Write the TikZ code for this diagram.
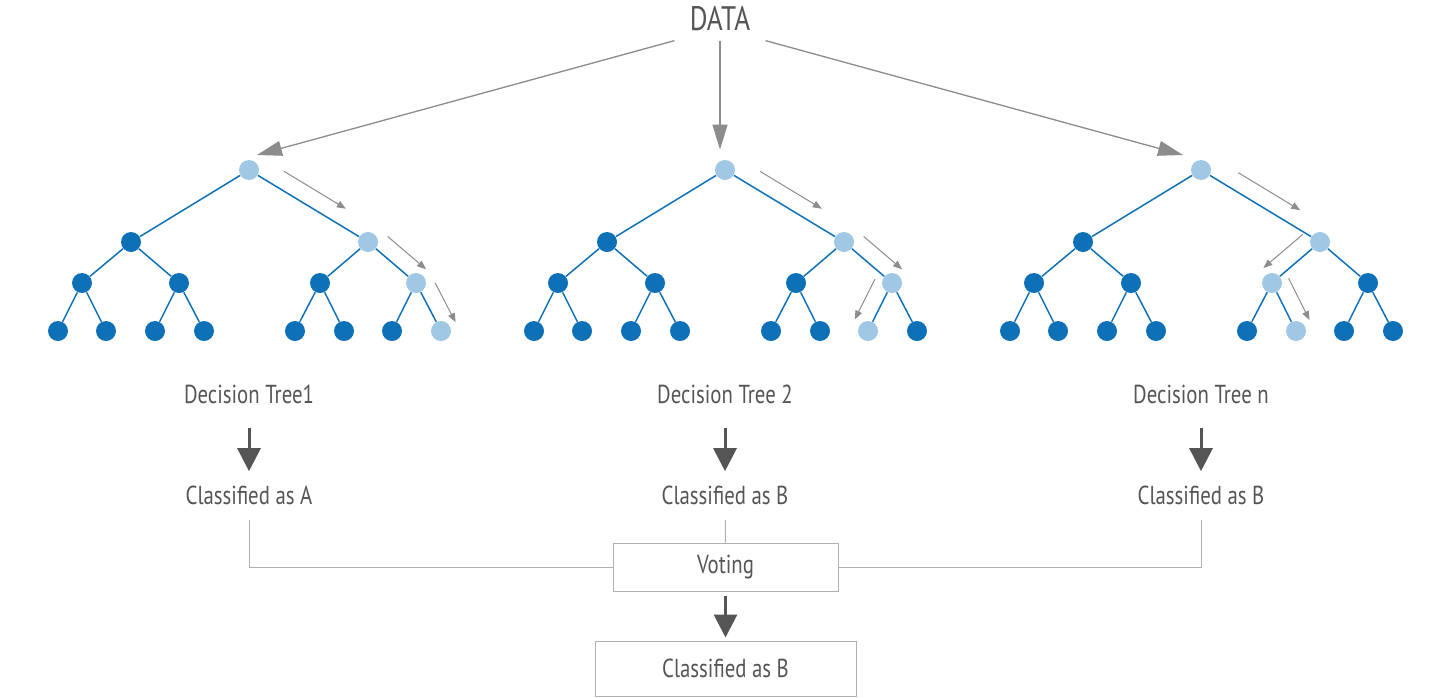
\documentclass[tikz,border=0pt]{standalone}
\usepackage{fontspec}
\setmainfont{PT Sans}[FakeStretch=0.8]
\usetikzlibrary{arrows.meta,calc}
\definecolor{deep}{HTML}{0E71B8}
\definecolor{pale}{HTML}{A0C7E3}
\definecolor{ink}{HTML}{555555}
\definecolor{wire}{HTML}{8C8C8C}
\definecolor{rule}{HTML}{B0B0B0}

\begin{document}
\begin{tikzpicture}[x=0.5pt, y=-0.5pt,
    dot/.style={circle, fill=deep, minimum size=10pt, inner sep=0pt},
    hot/.style={fill=pale},
    hl1r/.style=hot, hl1b/.style=hot, hl1bb/.style=hot, hl1bbb/.style=hot,
    hl2r/.style=hot, hl2b/.style=hot, hl2bb/.style=hot, hl2bba/.style=hot,
    hl3r/.style=hot, hl3b/.style=hot, hl3ba/.style=hot, hl3bab/.style=hot,
    branch/.style={draw=deep, line width=0.75pt},
    flow/.style={draw=wire, line width=0.5pt, -{Triangle[length=4.5pt, width=3.5pt]}},
    feed/.style={draw=wire, line width=0.65pt, -{Triangle[length=12.5pt, width=7.5pt]}, fill=wire!90!black},
    verdict/.style={draw=ink, line width=1.5pt, -{Triangle[length=11.5pt, width=11.5pt]}},
    tally/.style={draw=rule, line width=0.5pt},
    words/.style={text=ink, font=\fontsize{13}{15}\selectfont, inner sep=0pt},
    panel/.style={words, draw=rule, line width=0.5pt}]

    \useasboundingbox (0,0) rectangle (1440,697);

    \node[words, font=\fontsize{17}{20}\selectfont, inner xsep=7.5pt, inner ysep=4.5pt] (data) at (720,19) {DATA};

    \foreach \t/\dx in {1/0, 2/476, 3/952} {
        \foreach \n/\x/\y in {r/249/170, a/131/242, b/368/242,
                aa/82/283, ab/179/283, ba/320/283, bb/416/283,
                aaa/58/331, aab/106/331, aba/155/331, abb/204/331,
                baa/295/331, bab/344/331, bba/392/331, bbb/441/331}
            \node[dot, hl\t\n/.try] (t\t\n) at (\x+\dx,\y) {};
        \foreach \u/\v in {r/a, r/b, a/aa, a/ab, b/ba, b/bb, aa/aaa, aa/aab,
                ab/aba, ab/abb, ba/baa, ba/bab, bb/bba, bb/bbb}
            \draw[branch] (t\t\u) -- (t\t\v);
    }

    \foreach \u/\v/\s/\f/\g in {1r/1b/90/.22/.74, 1b/1bb/90/.18/.98, 1bb/1bbb/90/.16/.98,
            2r/2b/90/.22/.74, 2b/2bb/90/.18/.98, 2bb/2bba/-90/.08/.92,
            3r/3b/90/.24/.76, 3b/3ba/-90/.13/.95, 3ba/3bab/90/.06/.93}
        \draw[flow] ($(t\u)!\f!(t\v)!8.5pt!\s:(t\v)$) -- ($(t\u)!\g!(t\v)!8.5pt!\s:(t\v)$);

    \draw[feed] (data.south west) -- ($(t1r)+(8,-15)$);
    \draw[feed, shorten >=5pt] (data.south) -- (data.south |- t2r.north);
    \draw[feed] (data.south east) -- ($(t3r)+(-18,-15)$);

    \node[words] (dt1) at (249,394) {Decision Tree1};
    \node[words] (dt2) at (725,394) {Decision Tree 2};
    \node[words] (dt3) at (1201,394) {Decision Tree n};
    \node[words] (c1) at (249,495) {Classified as A};
    \node[words] (c2) at (725,495) {Classified as B};
    \node[words] (c3) at (1201,495) {Classified as B};

    \foreach \i in {1,2,3}
        \draw[verdict, shorten <=12pt, shorten >=7pt] (dt\i) -- (c\i);

    \node[panel, minimum width=112.5pt, minimum height=24pt] (vote) at (725.5,567) {Voting};
    \node[panel, minimum width=130.5pt, minimum height=27.5pt] (final) at (725.5,668.5) {Classified as B};

    \draw[tally, shorten <=7.5pt] (c1) |- (vote.west);
    \draw[tally, shorten <=7.5pt] (c2) -- (vote.north);
    \draw[tally, shorten <=7.5pt] (c3) |- (vote.east);
    \draw[verdict, shorten <=2pt, shorten >=1.5pt] (vote) -- (final);
\end{tikzpicture}
\end{document}
